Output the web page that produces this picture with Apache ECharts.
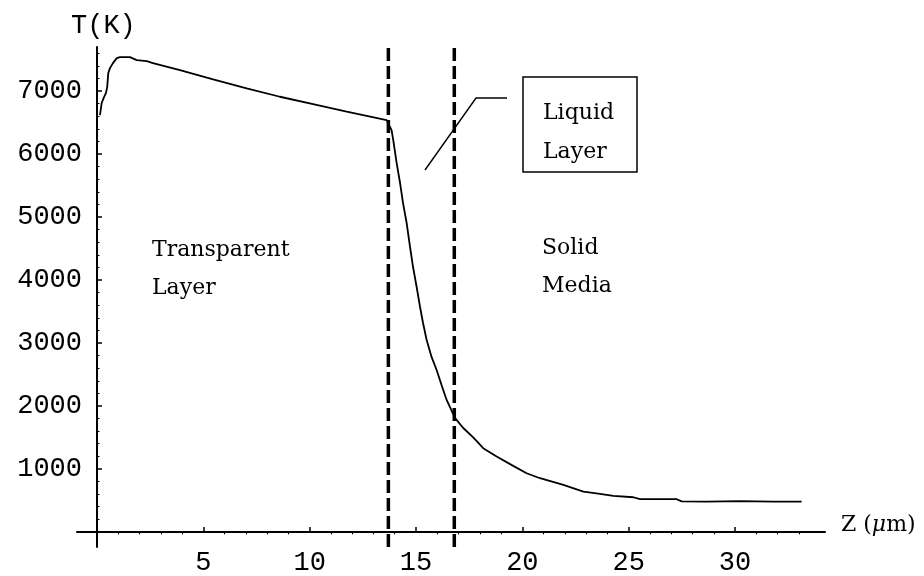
<!DOCTYPE html>
<html>
<head>
<meta charset="utf-8">
<title>T(K) vs Z</title>
<script src="https://cdn.jsdelivr.net/npm/echarts@6/dist/echarts.min.js"></script>
<style>
  html, body { margin: 0; padding: 0; background: #fff; }
  #chart { width: 924px; height: 576px; }
</style>
</head>
<body>
<div id="chart"></div>
<script>
// Depth below the surface (µm)
const zValues = [
  0.14, 0.22, 0.33, 0.42, 0.48, 0.53, 0.61, 0.75, 0.93, 1.08, 1.55, 1.87, 2.34,
  2.63, 3.9, 5.46, 7.04, 8.6, 10.16, 11.74, 13.62, 13.7, 13.85, 13.93, 14.09,
  14.25, 14.39, 14.56, 14.72, 14.86, 15.03, 15.19, 15.33, 15.5, 15.73, 15.97,
  16.2, 16.44, 16.83, 17.22, 17.69, 18.16, 18.79, 19.57, 20.2, 20.83, 21.93,
  22.87, 23.65, 24.28, 25.22, 25.53, 27.26, 27.49, 28.66, 30.23, 31.8, 33.13
];
// Temperature (K) at each depth
const tValues = [
  6619, 6810, 6905, 6968, 7063, 7286, 7365, 7444, 7524, 7540, 7540, 7492, 7476,
  7444, 7333, 7185, 7043, 6910, 6794, 6672, 6540, 6520, 6380, 6222, 5857,
  5540, 5222, 4905, 4524, 4206, 3889, 3571, 3317, 3048, 2778, 2571,
  2333, 2095, 1810, 1650, 1500, 1329, 1196, 1048, 931, 852, 746,
  640, 603, 571, 550, 519, 519, 485, 481, 490, 481, 481
];
// Boundaries of the liquid layer (µm)
const interfaceDepths = [13.7, 16.8];

const xTickLabels = [5, 10, 15, 20, 25, 30];
const xMinorTicks = [1, 2, 3, 4, 6, 7, 8, 9, 11, 12, 13, 14, 16, 17, 18, 19, 21, 22, 23, 24, 26, 27, 28, 29, 31, 32, 33];
const yTickLabels = [1000, 2000, 3000, 4000, 5000, 6000, 7000];
const yMinorTicks = [];
for (let v = 200; v < 7700; v += 200) if (v % 1000 !== 0) yMinorTicks.push(v);

const X_MIN = -0.94, X_MAX = 34.23;
const Y_MIN = -240, Y_MAX = 7700, DASH_TOP = 7760;

const curve = zValues.map((z, i) => [z, tValues[i]]);

const monoFont = 'Liberation Mono';
const serifFont = 'DejaVu Serif';
const plain = v => String(v);

const chart = echarts.init(document.getElementById('chart'), null, { renderer: 'canvas' });

const baseX = {
  type: 'value', min: X_MIN, max: X_MAX,
  splitLine: { show: false }
};
const baseY = {
  type: 'value', min: Y_MIN, max: Y_MAX, position: 'left',
  splitLine: { show: false }
};

chart.setOption({
  animation: false,
  backgroundColor: '#ffffff',
  title: {
    text: 'T(K)', left: 66, top: 7,
    textStyle: { fontFamily: monoFont, fontSize: 27, fontWeight: 'normal', color: '#000' }
  },
  grid: { left: 77, right: 99, top: 47, bottom: 29, containLabel: false, outerBoundsMode: 'none' },
  xAxis: [
    Object.assign({}, baseX, {
      axisLine: { show: true, onZero: true, lineStyle: { color: '#000', width: 2 } },
      axisTick: { show: true, inside: true, length: 5, customValues: xTickLabels, lineStyle: { color: '#000', width: 1.5 } },
      axisLabel: {
        show: true, customValues: xTickLabels, margin: 2, formatter: plain,
        fontFamily: monoFont, fontSize: 27, color: '#000'
      },
      name: '{a|Z (}{b|\u03bc}{a|m)}',
      nameLocation: 'end', nameGap: 16,
      nameTextStyle: {
        padding: [0, 0, 14, 0],
        rich: {
          a: { fontFamily: serifFont, fontSize: 22, color: '#000' },
          b: { fontFamily: serifFont, fontSize: 22, fontStyle: 'italic', color: '#000' }
        }
      }
    }),
    Object.assign({}, baseX, {
      axisLine: { show: false, onZero: true },
      axisTick: { show: true, inside: true, length: 2.5, customValues: xMinorTicks, lineStyle: { color: '#000', width: 1 } },
      axisLabel: { show: false }
    })
  ],
  yAxis: [
    Object.assign({}, baseY, {
      axisLine: { show: true, onZero: true, lineStyle: { color: '#000', width: 2 } },
      axisTick: { show: true, inside: true, length: 5, customValues: yTickLabels, lineStyle: { color: '#000', width: 1.5 } },
      axisLabel: {
        show: true, customValues: yTickLabels, margin: -5, formatter: plain,
        fontFamily: monoFont, fontSize: 27, color: '#000'
      }
    }),
    Object.assign({}, baseY, {
      axisLine: { show: false, onZero: true },
      axisTick: { show: true, inside: true, length: 2.5, customValues: yMinorTicks, lineStyle: { color: '#000', width: 1 } },
      axisLabel: { show: false }
    })
  ],
  series: [
    {
      type: 'line', xAxisIndex: 0, yAxisIndex: 0,
      data: curve, showSymbol: false, symbol: 'none', smooth: false,
      lineStyle: { color: '#000', width: 1.8 }
    }
  ].concat(interfaceDepths.map(d => ({
    type: 'line', xAxisIndex: 0, yAxisIndex: 0,
    data: [[d, Y_MIN], [d, DASH_TOP]], clip: false,
    showSymbol: false, symbol: 'none',
    lineStyle: { color: '#000', width: 3.5, type: [13, 5] }
  }))),
  graphic: [
    // Region annotations
    { type: 'text', left: 152, top: 231, style: { text: 'Transparent\nLayer', font: '22px "DejaVu Serif"', fill: '#000', lineHeight: 38 } },
    { type: 'text', left: 542, top: 229, style: { text: 'Solid\nMedia', font: '22px "DejaVu Serif"', fill: '#000', lineHeight: 38 } },
    // Callout for the liquid layer
    { type: 'rect', shape: { x: 523, y: 77, width: 114, height: 95 }, style: { fill: '#fff', stroke: '#000', lineWidth: 1.5 } },
    { type: 'text', left: 543, top: 94, style: { text: 'Liquid\nLayer', font: '22px "DejaVu Serif"', fill: '#000', lineHeight: 39 } },
    { type: 'polyline', shape: { points: [[425, 170], [476, 98], [507, 98]] }, style: { stroke: '#000', lineWidth: 1.4, fill: null } }
  ]
});
</script>
</body>
</html>
